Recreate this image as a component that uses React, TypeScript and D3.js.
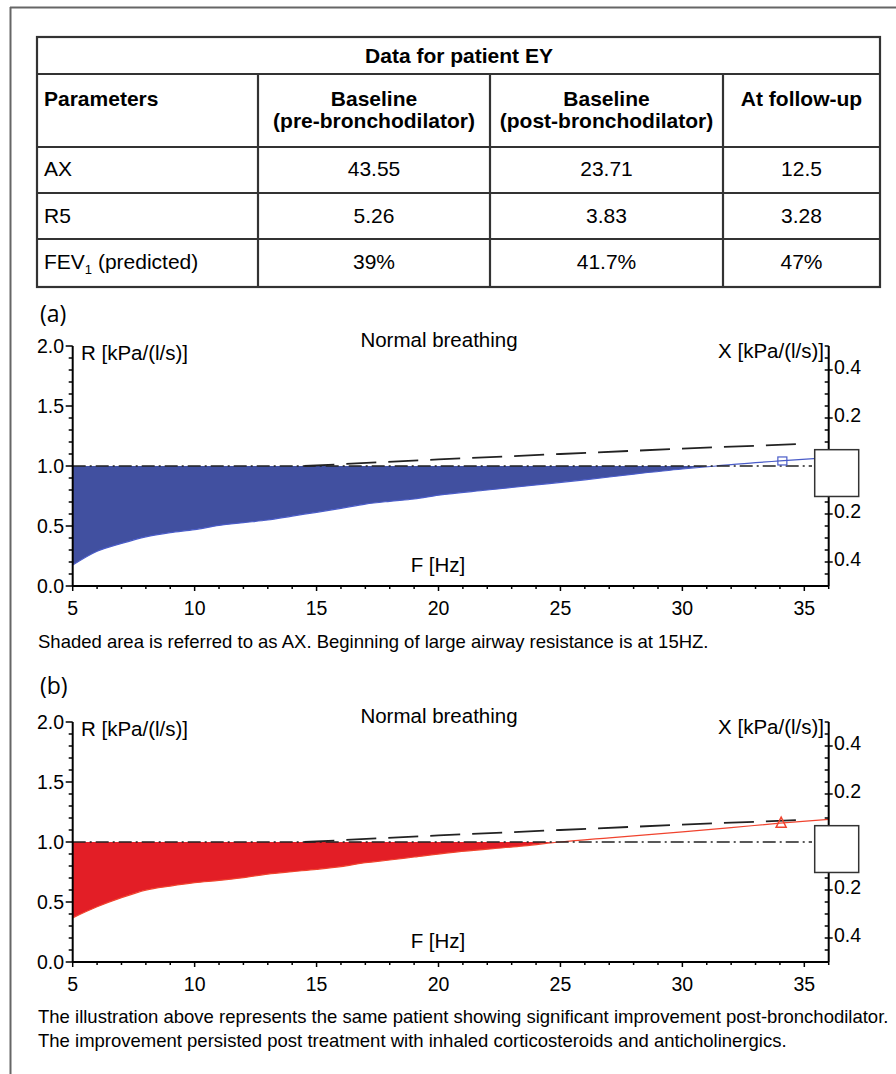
import React from 'react';
import * as d3 from 'd3';

// table values
const columnHeads = [['Parameters'], ['Baseline', '(pre-bronchodilator)'], ['Baseline', '(post-bronchodilator)'], ['At follow-up']];
const rowNames = ['AX', 'R5', 'FEV1 (predicted)'];
const preBronch = ['43.55', '5.26', '39%'];
const postBronch = ['23.71', '3.83', '41.7%'];
const followUp = ['12.5', '3.28', '47%'];

// resistance curves R [kPa/(l/s)] against frequency F [Hz]
const freqA = [5, 6, 7, 8, 9, 10, 11, 12, 13, 14, 15, 16, 17, 18, 19, 20, 22, 24, 26, 28, 30, 31.4, 33, 34, 36];
const resA = [0.175, 0.29, 0.355, 0.41, 0.445, 0.47, 0.505, 0.528, 0.55, 0.583, 0.614, 0.647, 0.683, 0.706, 0.725, 0.757, 0.8, 0.842, 0.885, 0.932, 0.975, 1.0, 1.028, 1.042, 1.07];
const freqB = [5, 6, 7, 8, 9, 10, 11, 12, 13, 14, 15, 16, 17, 18, 19, 20.5, 22, 23.5, 25, 27, 30, 32, 34, 36];
const resB = [0.368, 0.46, 0.536, 0.599, 0.633, 0.661, 0.68, 0.703, 0.733, 0.753, 0.772, 0.795, 0.828, 0.85, 0.875, 0.912, 0.94, 0.967, 1.0, 1.035, 1.085, 1.12, 1.157, 1.188];

// predicted R (long dashes)
const predFreq = [14.5, 20, 25, 30, 35];
const predRes = [1.0, 1.055, 1.1, 1.145, 1.185];

// marker points on the curves
const markerFreq = [34.1, 34.05];
const markerRes = [1.042, 1.157];

const FONT = 'Liberation Sans, Arial, sans-serif';

const x = d3.scaleLinear().domain([5, 36]).range([72.7, 828.7]);

function Panel({ bottom, label, labelY, freq, res, fill, stroke, marker, mi }) {
  const yR = d3.scaleLinear().domain([0, 2]).range([bottom, bottom - 240]);
  const yX = d3.scaleLinear().domain([-0.5, 0.5]).range([bottom, bottom - 240]);

  const area = d3.area<number>()
    .x((d, i) => x(freq[i]))
    .y0(yR(1))
    .y1(d => yR(Math.min(d, 1)))
    .curve(d3.curveMonotoneX);
  const line = d3.line<number>()
    .x((d, i) => x(freq[i]))
    .y(d => yR(d))
    .curve(d3.curveMonotoneX);
  const pred = d3.line<number>()
    .x((d, i) => x(predFreq[i]))
    .y(d => yR(d));

  const xTicks = d3.range(5, 37);
  const rTicks = d3.range(0, 21);
  const xrTicks = d3.range(-10, 11);
  const x0 = x(5), x1 = x(36);
  const mx = x(markerFreq[mi]), my = yR(markerRes[mi]);

  return (
    <g>
      <text x={40} y={labelY} fontFamily="Open Sans, sans-serif" fontSize={23}>{label}</text>
      <path d={area(res) || ''} fill={fill} />
      <path d={line(res) || ''} fill="none" stroke={stroke} strokeWidth={1.2} />
      <line x1={x0} x2={812} y1={yR(1)} y2={yR(1)} stroke="#222" strokeWidth={1.6} strokeDasharray="13,4,2,4" />
      <path d={pred(predRes) || ''} fill="none" stroke="#222" strokeWidth={1.8} strokeDasharray="30,12" />
      {marker === 'square'
        ? <rect x={mx - 4.5} y={my - 4} width={9} height={8} fill="none" stroke={stroke} strokeWidth={1.2} />
        : <path d={`M${mx},${my - 6} L${mx + 5},${my + 4} L${mx - 5},${my + 4} Z`} fill="none" stroke={stroke} strokeWidth={1.5} />}

      {/* left R axis */}
      <line x1={x0} x2={x0} y1={yR(0)} y2={yR(2)} stroke="#000" strokeWidth={2} />
      {rTicks.map(i => (
        <line key={'r' + i} x1={x0} x2={x0 - (i % 5 === 0 ? 7 : 4)} y1={yR(i / 10)} y2={yR(i / 10)} stroke="#000" strokeWidth={1.5} />
      ))}
      {rTicks.filter(i => i % 5 === 0).map(i => (
        <text key={'rl' + i} x={64} y={yR(i / 10)} dy="0.36em" textAnchor="end" fontFamily={FONT} fontSize={19.5}>{(i / 10).toFixed(1)}</text>
      ))}

      {/* bottom F axis */}
      <line x1={x0} x2={x1} y1={bottom} y2={bottom} stroke="#000" strokeWidth={2} />
      {xTicks.map(f => (
        <line key={'x' + f} x1={x(f)} x2={x(f)} y1={bottom} y2={bottom + (f % 5 === 0 ? 5 : 3)} stroke="#000" strokeWidth={1.5} />
      ))}
      {xTicks.filter(f => f % 5 === 0).map(f => (
        <text key={'xl' + f} x={x(f)} y={bottom + 29} textAnchor="middle" fontFamily={FONT} fontSize={19.5}>{f}</text>
      ))}

      {/* right X axis */}
      <line x1={x1} x2={x1} y1={yX(-0.5)} y2={yX(0.5)} stroke="#000" strokeWidth={2} />
      {xrTicks.map(i => (
        <line key={'q' + i} x1={x1 - 4} x2={x1 + (i % 4 === 0 ? 4 : 0)} y1={yX(i * 0.05)} y2={yX(i * 0.05)} stroke="#000" strokeWidth={1.5} />
      ))}
      {xrTicks.filter(i => i % 4 === 0 && i !== 0).map(i => (
        <text key={'ql' + i} x={834} y={yX(i * 0.05) - 3} dy="0.36em" fontFamily={FONT} fontSize={19.5}>{Math.abs(i * 0.05).toFixed(1)}</text>
      ))}
      <rect x={x1 - 14} y={yX(0.068)} width={44} height={yX(-0.127) - yX(0.068)} fill="#fff" stroke="#333" strokeWidth={1.5} />

      <text x={439} y={bottom - 239.5} textAnchor="middle" fontFamily={FONT} fontSize={20.5}>Normal breathing</text>
      <text x={81} y={bottom - 226.5} fontFamily={FONT} fontSize={20.5}>R [kPa/(l/s)]</text>
      <text x={824} y={bottom - 228} textAnchor="end" fontFamily={FONT} fontSize={20.5}>X [kPa/(l/s)]</text>
      <text x={438} y={bottom - 14.5} textAnchor="middle" fontFamily={FONT} fontSize={20.5}>F [Hz]</text>
    </g>
  );
}

function Table() {
  const cols = [37, 258, 490, 723, 880];
  const rows = [37, 74, 147, 193, 239, 287];
  const center = (c: number) => (cols[c] + cols[c + 1]) / 2;
  const rowBase = [176, 222.5, 269];
  const values = [preBronch, postBronch, followUp];
  return (
    <g fontFamily={FONT} fontSize={21}>
      <rect x={cols[0]} y={rows[0]} width={cols[4] - cols[0]} height={rows[5] - rows[0]} fill="none" stroke="#333" strokeWidth={2.2} />
      {rows.slice(1, 5).map(r => <line key={'h' + r} x1={cols[0]} x2={cols[4]} y1={r} y2={r} stroke="#333" strokeWidth={2.2} />)}
      {cols.slice(1, 4).map(c => <line key={'v' + c} x1={c} x2={c} y1={rows[1]} y2={rows[5]} stroke="#333" strokeWidth={2.2} />)}
      <text x={459} y={63} textAnchor="middle" fontWeight="bold">Data for patient EY</text>
      {columnHeads.map((h, c) => h.map((t, k) => (
        <text key={c + '-' + k} x={c === 0 ? 44 : center(c)} y={106 + k * 22} textAnchor={c === 0 ? 'start' : 'middle'} fontWeight="bold">{t}</text>
      )))}
      {rowNames.map((n, r) => (
        <text key={'n' + r} x={44} y={rowBase[r]}>
          {n === 'FEV1 (predicted)'
            ? <><tspan>FEV</tspan><tspan fontSize={13} dy={5}>1</tspan><tspan dy={-5}> (predicted)</tspan></>
            : n}
        </text>
      ))}
      {values.map((vals, c) => vals.map((v, r) => (
        <text key={c + 'v' + r} x={center(c + 1)} y={rowBase[r]} textAnchor="middle">{v}</text>
      )))}
    </g>
  );
}

export default function App() {
  return (
    <svg width={896} height={1074} style={{ position: 'absolute', left: 0, top: 0, background: '#fff' }}>
      <rect width={896} height={1074} fill="#fff" />
      <line x1={10.5} x2={10.5} y1={7} y2={1074} stroke="#666" strokeWidth={2} />
      <line x1={10} x2={896} y1={7.5} y2={7.5} stroke="#666" strokeWidth={2} />
      <Table />
      <Panel bottom={586} label="(a)" labelY={322} freq={freqA} res={resA} fill="#4150a0" stroke="#4a5cc8" marker="square" mi={0} />
      <text x={38} y={648} fontFamily={FONT} fontSize={18.5}>Shaded area is referred to as AX. Beginning of large airway resistance is at 15HZ.</text>
      <Panel bottom={962} label="(b)" labelY={694} freq={freqB} res={resB} fill="#e31e26" stroke="#f0432e" marker="triangle" mi={1} />
      <text x={38} y={1023} fontFamily={FONT} fontSize={18.5}>The illustration above represents the same patient showing significant improvement post-bronchodilator.</text>
      <text x={38} y={1047} fontFamily={FONT} fontSize={18.5}>The improvement persisted post treatment with inhaled corticosteroids and anticholinergics.</text>
    </svg>
  );
}
